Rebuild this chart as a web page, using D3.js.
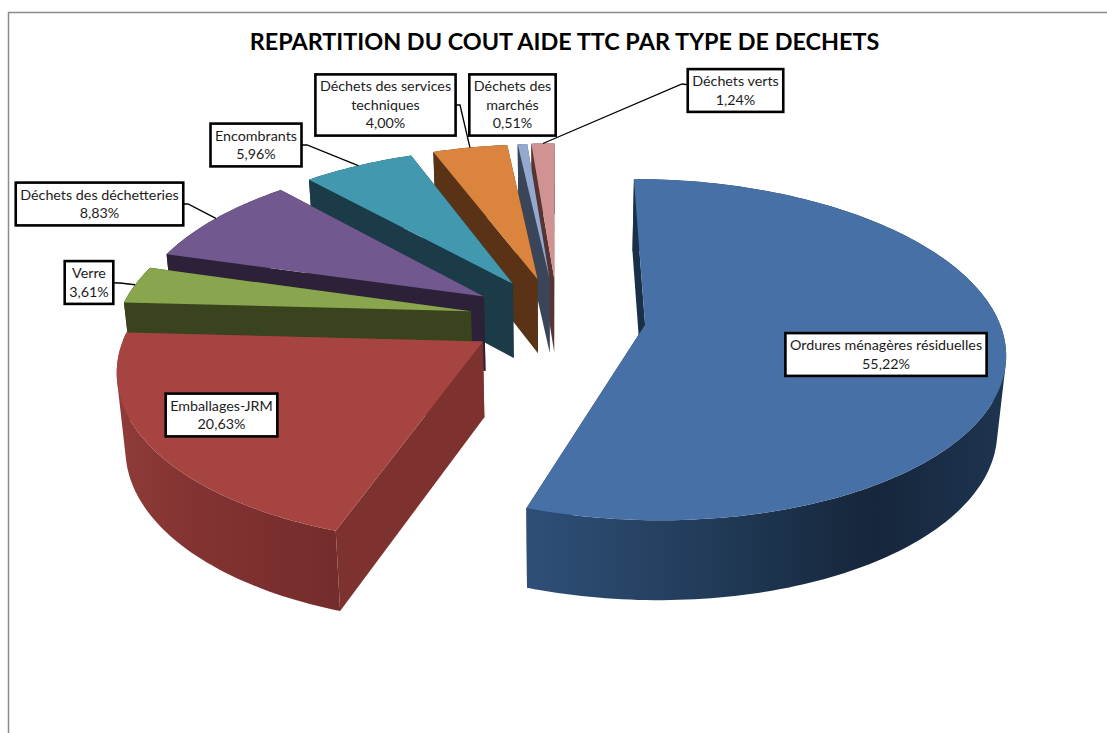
<!DOCTYPE html>
<html lang="en">
	<head>
		<meta charset="utf-8">
		<title>Repartition du cout aide TTC</title>
		<script type="text/javascript" src="https://cdn.jsdelivr.net/npm/d3@7"></script>
		<style type="text/css">
			html, body { margin: 0; padding: 0; background: #fff; overflow: hidden; }
			text { font-family: Lato, "Open Sans", sans-serif; fill: #1c1c1c; }
		</style>
	</head>
	<body>
		<script type="text/javascript">
			//Data
			var chartTitle = "REPARTITION DU COUT AIDE TTC PAR TYPE DE DECHETS";
			var categories = ["Ordures ménagères résiduelles", "Emballages-JRM", "Verre", "Déchets des déchetteries", "Encombrants", "Déchets des services techniques", "Déchets des marchés", "Déchets verts"];
			var shares = [55.22, 20.63, 3.61, 8.83, 5.96, 4.00, 0.51, 1.24];

			//Colours, same order as the categories
			var topColors = ["#4670a6", "#a64442", "#89a54e", "#71588f", "#4198af", "#db843d", "#93a9cf", "#d19392"];
			var sideColors = ["#1a3048", "#7e3230", "#39431e", "#2c2138", "#1a3b47", "#5a3317", "#3a4559", "#573432"];
			var rimStops = [
				["#2f4f78", "#24405f", "#16263b", "#1d3450"],
				["#8f3c3a", "#843432", "#7a2f2e", "#742d2c"]
			];

			//Label layout: wrapped lines, box centre, leader elbow
			var labelLines = [["Ordures ménagères résiduelles"], ["Emballages-JRM"], ["Verre"], ["Déchets des déchetteries"], ["Encombrants"], ["Déchets des services", "techniques"], ["Déchets des", "marchés"], ["Déchets verts"]];
			var labelCentres = [[886, 354.5], [221.5, 415], [89, 282.5], [99.5, 204], [256, 145], [385.5, 105], [512.5, 105], [735.5, 90.5]];
			var labelElbows = [null, null, [120, 283], [188, 204], [307, 145], [460, 105], null, [682, 84]];

			//Width and height
			var w = 1107;
			var h = 733;

			//Perspective of the tilted pie
			var cx = 557.5;
			var persp = 0.145;
			var explode = 0.25;
			var faceTop = { a: 353, b: 165, cy: 318 };
			var faceBottom = { a: 346, b: 169, cy: 393 };

			function project(x, y, face) {
				var k = 1 + persp * y;
				return [cx + face.a * x / k, face.cy - face.b * y / k];
			}

			var fmt = d3.formatLocale({ decimal: ",", thousands: " ", grouping: [3], currency: ["", "%"] }).format(".2f");

			var svg = d3.select("body")
						.append("svg")
						.attr("width", w)
						.attr("height", h)
						.style("display", "block");

			var defs = svg.append("defs");

			//Chart frame, open on the right and bottom
			svg.append("path")
			   .attr("d", "M8.5," + h + "V12.5H" + w)
			   .attr("fill", "none")
			   .attr("stroke", "#8a8a8a")
			   .attr("stroke-width", 1.5);

			svg.append("text")
			   .attr("x", 564.5)
			   .attr("y", 50)
			   .attr("text-anchor", "middle")
			   .style("font-size", "23.4px")
			   .style("font-weight", "bold")
			   .style("fill", "#000")
			   .text(chartTitle);

			var pie = d3.pie().sort(null).value(function(d) { return d; });
			var slices = pie(shares).map(function(d, i) {
				var mid = (d.startAngle + d.endAngle) / 2;
				return {
					i: i,
					start: d.startAngle,
					end: d.endAngle,
					mid: mid,
					ox: explode * Math.sin(mid),
					oy: explode * Math.cos(mid)
				};
			});

			function rimPoint(s, t, face) {
				return project(s.ox + Math.sin(t), s.oy + Math.cos(t), face);
			}

			function rimPoints(s, face) {
				var n = Math.max(4, Math.ceil((s.end - s.start) / 0.02));
				return d3.range(n + 1).map(function(j) {
					return rimPoint(s, s.start + (s.end - s.start) * j / n, face);
				});
			}

			var line = d3.line();

			//Outer wall as one quad per step, so the silhouette is the full sweep between the two faces
			function wallPath(topRim, bottomRim) {
				return d3.range(topRim.length - 1).map(function(j) {
					return line(d3.polygonHull([topRim[j], topRim[j + 1], bottomRim[j + 1], bottomRim[j]])) + "Z";
				}).join("");
			}

			//Paint from the back slices to the front ones
			var paintOrder = [7, 6, 5, 4, 3, 2, 1, 0];
			var g = svg.append("g");

			paintOrder.forEach(function(i) {
				var s = slices[i];
				var apexTop = project(s.ox, s.oy, faceTop);
				var apexBottom = project(s.ox, s.oy, faceBottom);
				var topRim = rimPoints(s, faceTop);
				var bottomRim = rimPoints(s, faceBottom);
				var rimFill = sideColors[i];

				if (rimStops[i]) {
					var xs = d3.extent(topRim, function(p) { return p[0]; });
					var grad = defs.append("linearGradient")
								   .attr("id", "rim" + i)
								   .attr("gradientUnits", "userSpaceOnUse")
								   .attr("x1", xs[0]).attr("x2", xs[1])
								   .attr("y1", 0).attr("y2", 0);
					grad.selectAll("stop")
						.data(rimStops[i])
						.enter()
						.append("stop")
						.attr("offset", function(d, j) { return [0, 0.3, 0.72, 1][j]; })
						.attr("stop-color", function(d) { return d; });
					rimFill = "url(#rim" + i + ")";
				}

				var faces = [
					{ d: line([topRim[topRim.length - 1], apexTop, apexBottom, bottomRim[bottomRim.length - 1]]) + "Z", fill: sideColors[i] },
					{ d: wallPath(topRim, bottomRim), fill: rimFill },
					{ d: line([topRim[0], apexTop, apexBottom, bottomRim[0]]) + "Z", fill: sideColors[i] },
					{ d: line([apexTop].concat(topRim)) + "Z", fill: topColors[i] }
				];

				g.selectAll("path.s" + i)
				 .data(faces)
				 .enter()
				 .append("path")
				 .attr("class", "s" + i)
				 .attr("d", function(d) { return d.d; })
				 .style("fill", function(d) { return d.fill; });
			});

			//Leader lines end on the middle of the slice's rim
			var leaders = svg.append("g");
			slices.forEach(function(s) {
				var elbow = labelElbows[s.i];
				if (!elbow) return;
				var c = labelCentres[s.i];
				leaders.append("path")
					   .attr("d", line([c, elbow, rimPoint(s, s.mid, faceTop)]))
					   .attr("fill", "none")
					   .attr("stroke", "#000")
					   .attr("stroke-width", 1.3);
			});

			//Label boxes sized from their text
			var lineHeight = 18.4;
			categories.forEach(function(name, i) {
				var c = labelCentres[i];
				var rows = labelLines[i].concat([fmt(shares[i]) + "%"]);
				var box = svg.append("g");
				var rect = box.append("rect")
							  .attr("fill", "#fff")
							  .attr("stroke", "#000")
							  .attr("stroke-width", 2.6);
				var label = box.append("text")
							   .attr("text-anchor", "middle")
							   .style("font-size", "14.3px");
				rows.forEach(function(row, j) {
					label.append("tspan")
						 .attr("x", c[0])
						 .attr("y", c[1] + (j - (rows.length - 1) / 2) * lineHeight + 4.8)
						 .text(row);
				});
				var textWidth = label.node().getBBox().width;
				var boxH = rows.length * lineHeight + 6;
				rect.attr("x", c[0] - textWidth / 2 - 4.5)
					.attr("y", c[1] - boxH / 2)
					.attr("width", textWidth + 9)
					.attr("height", boxH);
			});
		</script>
	</body>
</html>
